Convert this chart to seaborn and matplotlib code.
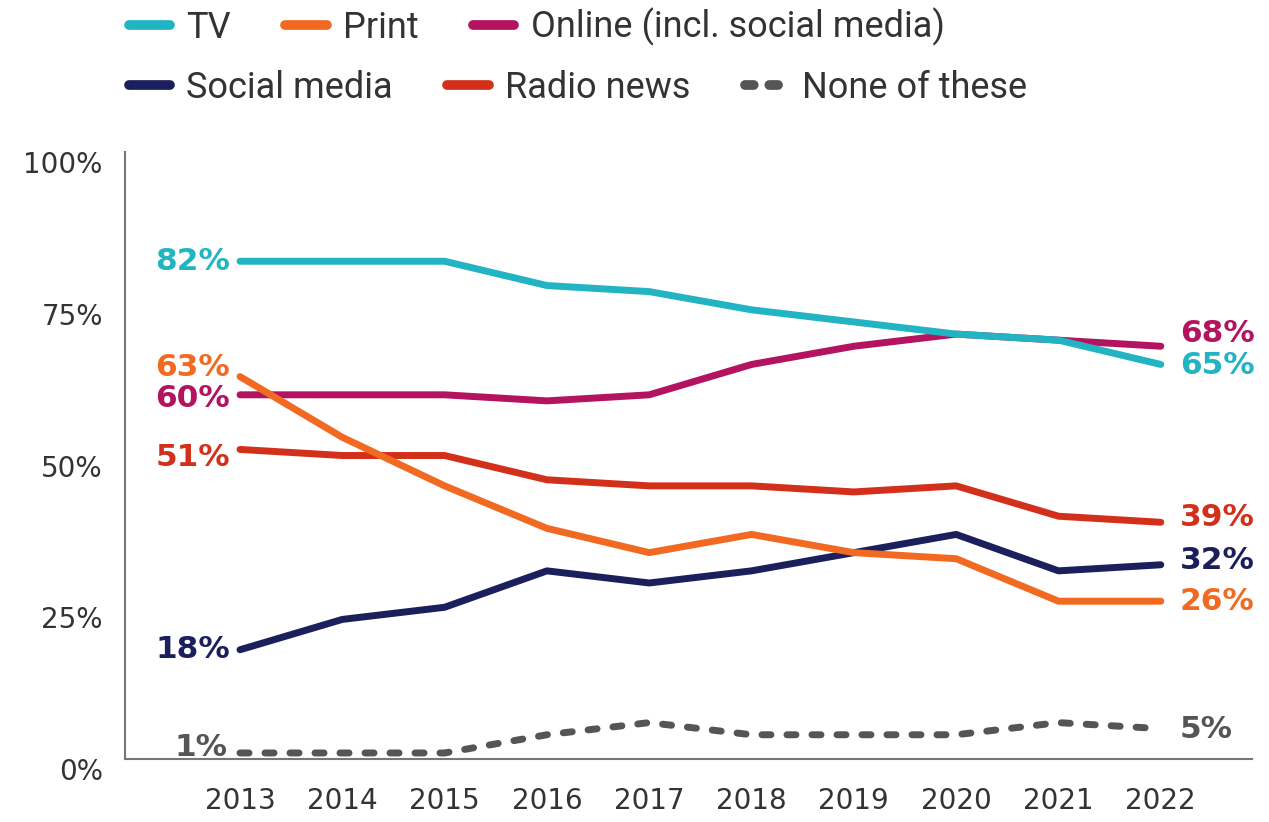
import numpy as np
import pandas as pd
import seaborn as sns
import matplotlib.pyplot as plt
import matplotlib.transforms as mtransforms
from matplotlib.lines import Line2D

# Data
years = [2013, 2014, 2015, 2016, 2017, 2018, 2019, 2020, 2021, 2022]
tv = [82, 82, 82, 78, 77, 74, 72, 70, 69, 65]
online = [60, 60, 60, 59, 60, 65, 68, 70, 69, 68]
print_ = [63, 53, 45, 38, 34, 37, 34, 33, 26, 26]
radio = [51, 50, 50, 46, 45, 45, 44, 45, 40, 39]
social = [18, 23, 25, 31, 29, 31, 34, 37, 31, 32]
none = [1, 1, 1, 4, 6, 4, 4, 4, 6, 5]

series_names = ["TV", "Print", "Online (incl. social media)",
                "Social media", "Radio news", "None of these"]
series_values = [tv, print_, online, social, radio, none]
colors = {
    "TV": "#22B4C3",
    "Print": "#F26A21",
    "Online (incl. social media)": "#B3135F",
    "Social media": "#1B1F5C",
    "Radio news": "#D3301B",
    "None of these": "#555555",
}
# drawing order (last on top)
draw_order = ["None of these", "Social media", "Radio news",
              "Online (incl. social media)", "Print", "TV"]

df = pd.DataFrame({
    "year": np.tile(years, len(series_names)),
    "value": np.concatenate(series_values),
    "series": np.repeat(series_names, len(years)),
})

sns.set_style("white")
plt.rcParams["font.family"] = ["DejaVu Sans"]

fig = plt.figure(figsize=(12.69, 8.22), dpi=100)
ax = fig.add_axes([0.0985, 0.0766, 0.888, 0.7385])

sns.lineplot(data=df, x="year", y="value", hue="series", style="series",
             hue_order=draw_order, style_order=draw_order,
             palette=colors,
             dashes={n: ("" if n != "None of these" else (1.3, 2.3)) for n in series_names},
             linewidth=5, legend=False, ax=ax)
for line in ax.lines:
    line.set_solid_capstyle("round")
    line.set_dash_capstyle("round")
    line.set_solid_joinstyle("round")

ax.set_xlim(2011.876, 2022.89)
ax.set_ylim(0, 100)
ax.set_xticks(years)
ax.set_yticks([0, 25, 50, 75, 100])
ax.set_yticklabels(["0%", "25%", "50%", "75%", "100%"])
ax.set_xlabel("")
ax.set_ylabel("")
ax.tick_params(axis="both", length=0, labelsize=20, labelcolor="#333333")
ax.tick_params(axis="x", pad=20)
ax.tick_params(axis="y", pad=16)
shift = mtransforms.ScaledTranslation(0, -10 / 100, fig.dpi_scale_trans)
for lab in ax.get_yticklabels():
    lab.set_transform(lab.get_transform() + shift)

for side in ["top", "right"]:
    ax.spines[side].set_visible(False)
for side in ["left", "bottom"]:
    ax.spines[side].set_color("#777777")
    ax.spines[side].set_linewidth(1.5)

# end labels: (series, index, text, dx px, dy px)
labels = [
    ("TV", 0, "82%", -10, 0), ("Print", 0, "63%", -10, 9),
    ("Online (incl. social media)", 0, "60%", -10, -4),
    ("Radio news", 0, "51%", -10, -8), ("Social media", 0, "18%", -10, 0),
    ("None of these", 0, "1%", -12, 5),
    ("Online (incl. social media)", -1, "68%", 19, 13), ("TV", -1, "65%", 19, -1),
    ("Radio news", -1, "39%", 19, 5), ("Social media", -1, "32%", 19, 4),
    ("Print", -1, "26%", 19, 0), ("None of these", -1, "5%", 19, -1),
]
for name, idx, txt, dx, dy in labels:
    vals = series_values[series_names.index(name)]
    ax.annotate(txt, xy=(years[idx], vals[idx]), xytext=(dx * 0.72, dy * 0.72),
                textcoords="offset points", ha="right" if dx < 0 else "left",
                va="center", fontsize=22.5, fontweight="bold",
                color=colors[name], annotation_clip=False)

# legend in two rows
def handle(name):
    if name == "None of these":
        return Line2D([], [], color=colors[name], lw=7, linestyle=(0, (0.9, 1.6)),
                      dash_capstyle="round")
    return Line2D([], [], color=colors[name], lw=7, solid_capstyle="round")

leg_font = {"family": ["Roboto", "DejaVu Sans"], "size": 26}
rows = [series_names[:3], series_names[3:]]
for i, row in enumerate(rows):
    leg = fig.legend([handle(n) for n in row], row, loc="center left",
                     bbox_to_anchor=(0.09, 1 - (27 + 61 * i) / 822), ncol=3,
                     frameon=False, prop=leg_font, handlelength=1.15,
                     handletextpad=0.45, columnspacing=1.5, borderaxespad=0)
    for t in leg.get_texts():
        t.set_color("#333333")

fig.savefig("out.png", dpi=100, facecolor="white")
